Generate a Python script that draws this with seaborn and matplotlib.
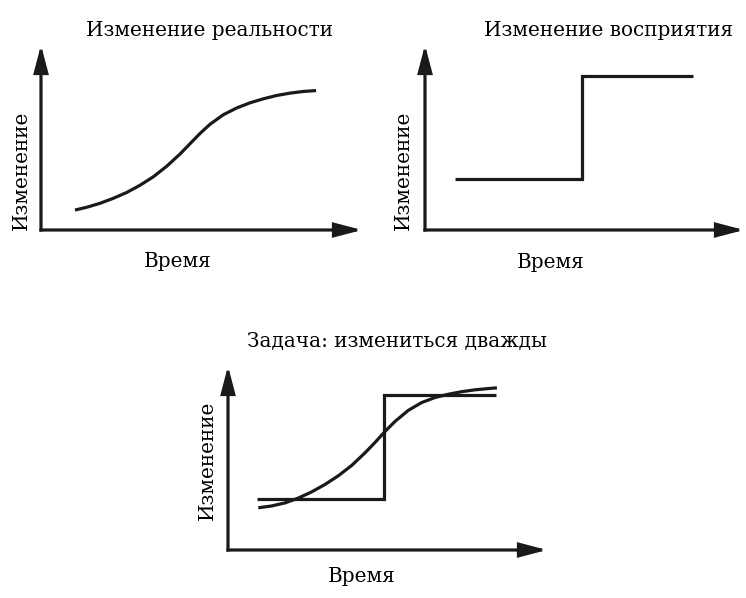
import matplotlib
matplotlib.use("Agg")
import matplotlib.pyplot as plt
import seaborn as sns

# данные (время / изменение в условных единицах 0..10)
time_real = [1.06, 1.42, 1.84, 2.25, 2.67, 3.08, 3.50, 3.92, 4.33, 4.64,
             4.95, 5.26, 5.68, 6.10, 6.51, 6.93, 7.34, 7.76, 8.17, 8.57]
change_real = [1.09, 1.24, 1.46, 1.73, 2.05, 2.44, 2.91, 3.49, 4.15, 4.71,
               5.27, 5.77, 6.30, 6.67, 6.95, 7.17, 7.35, 7.48, 7.57, 7.62]

time_perc = [0.94, 4.92, 8.40]
change_perc = [2.79, 8.42, 8.42]

time_both_curve = [0.95, 1.37, 1.79, 2.20, 2.62, 3.04, 3.46, 3.88, 4.29, 4.61,
                   4.92, 5.24, 5.65, 6.07, 6.49, 6.91, 7.33, 7.74, 8.16, 8.43]
change_both_curve = [2.32, 2.42, 2.59, 2.85, 3.19, 3.60, 4.08, 4.65, 5.33, 5.91,
                     6.51, 7.07, 7.67, 8.10, 8.38, 8.56, 8.70, 8.80, 8.87, 8.91]
time_both_step = [0.90, 4.89, 8.39]
change_both_step = [2.82, 8.50, 8.50]

titles = ["Изменение реальности", "Изменение восприятия", "Задача: измениться дважды"]
x_label = "Время"
y_label = "Изменение"

sns.set_theme(style="white")
plt.rcParams["font.family"] = ["DejaVu Serif"]

W, H = 746, 598
ink = "#1a1a1a"
fs = 14.4

fig = plt.figure(figsize=(W / 100, H / 100), dpi=100)
fig.patch.set_facecolor("white")


def px_axes(x0, y0, x1, y1):
    # оси по пикселям: начало координат (x0, y0), правый верхний угол (x1, y1)
    return fig.add_axes([x0 / W, 1 - y0 / H, (x1 - x0) / W, (y0 - y1) / H])


def draw_frame(ax, top=1.011):
    ax.set_xlim(0, 10)
    ax.set_ylim(0, 10)
    ax.axis("off")
    arrow = dict(arrowstyle="-|>,head_length=1.6,head_width=0.42", lw=2.3,
                 color=ink, shrinkA=0, shrinkB=0, mutation_scale=10,
                 capstyle="projecting", joinstyle="miter")
    ax.annotate("", xy=(1, 0), xytext=(0, 0), xycoords="axes fraction", arrowprops=arrow)
    ax.annotate("", xy=(0, top), xytext=(0, 0), xycoords="axes fraction", arrowprops=arrow)


def put_text(x, y, s, rot=0):
    fig.text(x / W, 1 - y / H, s, ha="center", va="baseline", rotation=rot,
             rotation_mode="anchor", fontsize=fs, color="black")


line_kw = dict(color=ink, linewidth=2.3, solid_capstyle="butt")

# 1. Изменение реальности
ax1 = px_axes(41, 230, 362, 47)
draw_frame(ax1)
sns.lineplot(x=time_real, y=change_real, ax=ax1, **line_kw)
ax1.axis("off")
put_text(209, 36, titles[0])
put_text(178, 267, x_label)
put_text(27, 170, y_label, rot=90)

# 2. Изменение восприятия
ax2 = px_axes(425, 230, 744, 47)
draw_frame(ax2)
sns.lineplot(x=time_perc, y=change_perc, ax=ax2, drawstyle="steps-post",
             solid_joinstyle="miter", **line_kw)
ax2.axis("off")
put_text(609, 36, titles[1])
put_text(551, 268, x_label)
put_text(409, 170, y_label, rot=90)

# 3. Задача: измениться дважды
ax3 = px_axes(228, 550, 547, 368)
draw_frame(ax3)
sns.lineplot(x=time_both_step, y=change_both_step, ax=ax3, drawstyle="steps-post",
             solid_joinstyle="miter", **line_kw)
sns.lineplot(x=time_both_curve, y=change_both_curve, ax=ax3, **line_kw)
ax3.axis("off")
put_text(397, 347, titles[2])
put_text(362, 582, x_label)
put_text(213, 460, y_label, rot=90)

fig.savefig("out.png", dpi=100, facecolor="white")
